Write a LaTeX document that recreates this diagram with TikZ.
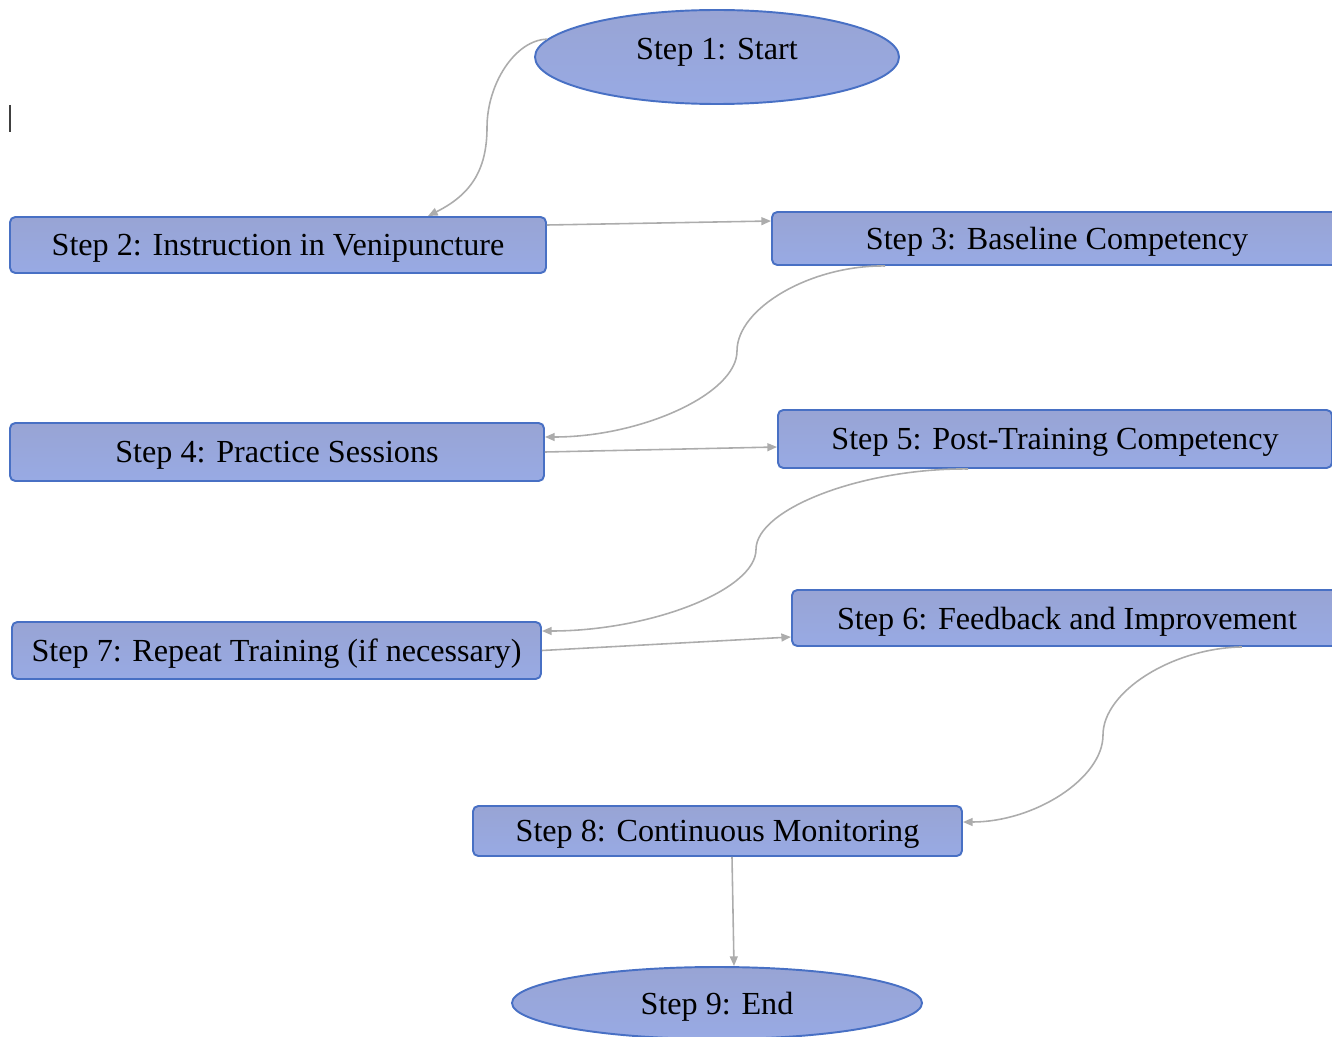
\documentclass[tikz,border=0pt]{standalone}
\usepackage{fontspec}
\setmainfont{Liberation Serif}
\usetikzlibrary{shapes,arrows.meta}

\definecolor{stepline}{RGB}{72,112,196}
\definecolor{steptop}{RGB}{152,164,212}
\definecolor{stepmid}{RGB}{168,183,232}
\definecolor{stepbot}{RGB}{152,170,228}
\definecolor{linkgray}{RGB}{172,172,172}

\begin{document}
\begin{tikzpicture}[x=0.02cm, y=-0.02cm,
  stepbox/.style={draw=stepline, line width=1.1pt, rounded corners=3pt,
    top color=steptop, middle color=stepmid, bottom color=stepbot,
    font=\fontsize{18.3}{22}\selectfont, inner sep=0pt, text depth=0pt},
  stepoval/.style={stepbox, ellipse, rounded corners=0pt},
  link/.style={draw=linkgray, line width=0.9pt, -{Triangle[length=5.5pt, width=4.5pt]}}]
\useasboundingbox (0,0) rectangle (1332,1037);
\clip (0,0) rectangle (1332,1037);
\node [stepoval, minimum width=364*0.02cm, minimum height=94*0.02cm, text depth=9pt] (s1) at (717,57) {Step 1: Start};
\node [stepbox, minimum width=536*0.02cm, minimum height=56*0.02cm] (s2) at (278,245) {Step 2: Instruction in Venipuncture};
\node [stepbox, minimum width=570*0.02cm, minimum height=53*0.02cm] (s3) at (1057,238.5) {Step 3: Baseline Competency};
\node [stepbox, minimum width=534*0.02cm, minimum height=58*0.02cm] (s4) at (277,452) {Step 4: Practice Sessions};
\node [stepbox, minimum width=554*0.02cm, minimum height=58*0.02cm] (s5) at (1055,439) {Step 5: Post-Training Competency};
\node [stepbox, minimum width=550*0.02cm, minimum height=56*0.02cm] (s6) at (1067,618) {Step 6: Feedback and Improvement};
\node [stepbox, minimum width=529*0.02cm, minimum height=57*0.02cm] (s7) at (276.5,650.5) {Step 7: Repeat Training (if necessary)};
\node [stepbox, minimum width=489*0.02cm, minimum height=50*0.02cm] (s8) at (717.5,831) {Step 8: Continuous Monitoring};
\node [stepoval, minimum width=410*0.02cm, minimum height=72*0.02cm] (s9) at (717,1003) {Step 9: End};

\draw [link] (s1.174) .. controls (515,40) and (487,84) .. (487,127.5)
  .. controls (487,171) and (470,195) .. ([xshift=3cm]s2.north);
\draw [link] ([yshift=0.4cm]s2.east) -- ([yshift=0.35cm]s3.west);
\draw [link] ([xshift=-3.44cm]s3.south) .. controls (811,265) and (737,308) .. (737,351)
  .. controls (737,394) and (641,437) .. ([yshift=0.3cm]s4.east);
\draw [link] (s4.east) -- ([yshift=-0.16cm]s5.west);
\draw [link] ([xshift=-1.74cm]s5.south) .. controls (862,468) and (756,509) .. (756,549.5)
  .. controls (756,590) and (650.5,631) .. ([yshift=0.39cm]s7.east);
\draw [link] (s7.east) -- ([yshift=-0.38cm]s6.west);
\draw [link] ([xshift=3.5cm]s6.south) .. controls (1172.5,648) and (1103,691.5) .. (1103,735)
  .. controls (1103,778.5) and (1034.5,822) .. ([yshift=0.18cm]s8.east);
\draw [link] ([xshift=0.29cm]s8.south) -- ([xshift=0.34cm]s9.north);

\draw [line width=1.1pt, black!75] (10,105) -- (10,132);
\end{tikzpicture}
\end{document}
